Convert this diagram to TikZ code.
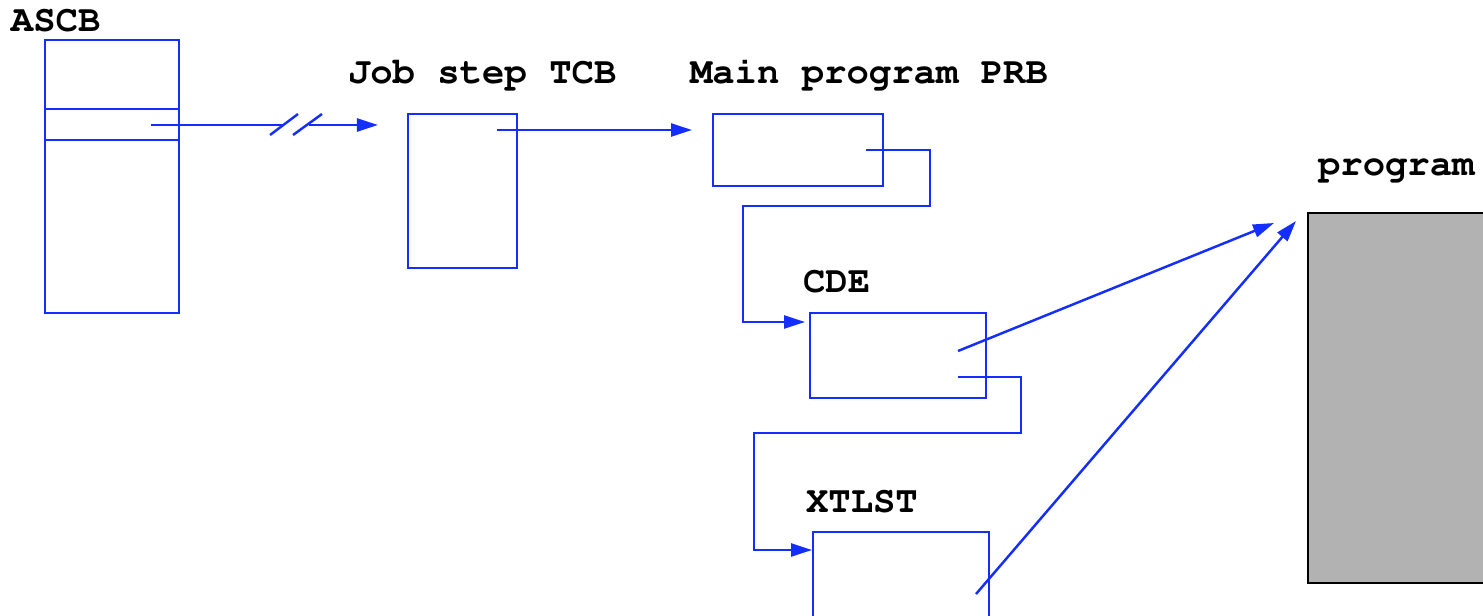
\documentclass[tikz,border=0pt]{standalone}
\usepackage[T1]{fontenc}
\usepackage{fontspec}
\setmonofont{Liberation Mono}
\usetikzlibrary{positioning, arrows.meta, calc}
\definecolor{linkblue}{rgb}{0.08, 0.18, 1.0}
\definecolor{storegray}{gray}{0.70}
\newcommand{\courierbold}{\fontencoding{T1}\fontfamily{pcr}\fontseries{b}\fontshape{n}\fontsize{10.6}{12}\selectfont}

\begin{document}
\begin{tikzpicture}[
    x=0.01cm, y=-0.01cm,
    every node/.style={inner sep=0pt, outer sep=0pt},
    title/.style ={anchor=base west, font=\courierbold},
    block/.style ={draw=linkblue, line width=0.7pt, anchor=north west},
    store/.style ={draw=black, fill=storegray, line width=0.7pt, anchor=north west},
    link/.style  ={draw=linkblue, line width=0.7pt},
    arrow/.style ={link, -{Triangle[length=2.1mm, width=1.3mm]}}
]
\useasboundingbox (0,0) rectangle (1483,616);
\clip (0,0) rectangle (1483,616);

% Control blocks
\node[block, minimum width=1.34cm, minimum height=2.73cm] (ascb)  at (45,40)   {};
\node[block, minimum width=1.09cm, minimum height=1.54cm] (tcb)   at (408,114) {};
\node[block, minimum width=1.70cm, minimum height=0.72cm] (prb)   at (713,114) {};
\node[block, minimum width=1.76cm, minimum height=0.85cm] (cde)   at (810,313) {};
\node[block, minimum width=1.76cm, minimum height=1.20cm] (xtlst) at (813,532) {};
\node[store, minimum width=2.20cm, minimum height=3.70cm] (prog)  at (1308,213) {};

% Titles
\node[title] (ascbt)  at (11,32)    {ASCB};
\node[title] (tcbt)   at (348,84)   {Job step TCB};
\node[title] (prbt)   at (690,84)   {Main program PRB};
\node[title] (cdet)   at (803,293)  {CDE};
\node[title] (xtlstt) at (806,512)  {XTLST};
\node[title] (progt)  at (1318,176) {program};

% ASCB slot
\draw[link] ($(ascb.north west)+(0,69)$)  -- ($(ascb.north east)+(0,69)$);
\draw[link] ($(ascb.north west)+(0,100)$) -- ($(ascb.north east)+(0,100)$);

% Pointer ends
\coordinate (ascbptr) at ($(ascb.north west)+(106,85)$);
\coordinate (brka)    at (284,125);
\coordinate (brkb)    at (309,125);
\coordinate (tcbin)   at ($(tcb.north west)+(-30,11)$);
\coordinate (tcbptr)  at ($(tcb.north west)+(89,16)$);
\coordinate (prbin)   at ($(prb.north west)+(-21,16)$);
\coordinate (prbptr)  at ($(prb.north west)+(153,36)$);
\coordinate (cdein)   at ($(cde.north west)+(-5,9)$);
\coordinate (cdeptr)  at ($(cde.north west)+(148,38)$);
\coordinate (cdenext) at ($(cde.north west)+(148,64)$);
\coordinate (xtlstin) at ($(xtlst.north west)+(-1,18)$);
\coordinate (xtlstptr) at ($(xtlst.north west)+(163,62)$);
\coordinate (progina) at ($(prog.north west)+(-34,10)$);
\coordinate (proginb) at ($(prog.north west)+(-12,8)$);

% Arrows
\draw[link]  (ascbptr) -- (brka);
\draw[link]  ($(brka)+(-14,10)$) -- ($(brka)+(14,-11)$);
\draw[link]  ($(brkb)+(-16,10)$) -- ($(brkb)+(13,-11)$);
\draw[arrow] (brkb) -- (tcbin);
\draw[arrow] (tcbptr) -- (prbin);
\draw[arrow] (prbptr) -- ++(64,0) -- ++(0,56) -- ++(-187,0) |- (cdein);
\draw[arrow] (cdeptr) -- (progina);
\draw[arrow] (cdenext) -- ++(63,0) -- ++(0,56) -- ++(-267,0) |- (xtlstin);
\draw[arrow] (xtlstptr) -- (proginb);

\end{tikzpicture}
\end{document}
